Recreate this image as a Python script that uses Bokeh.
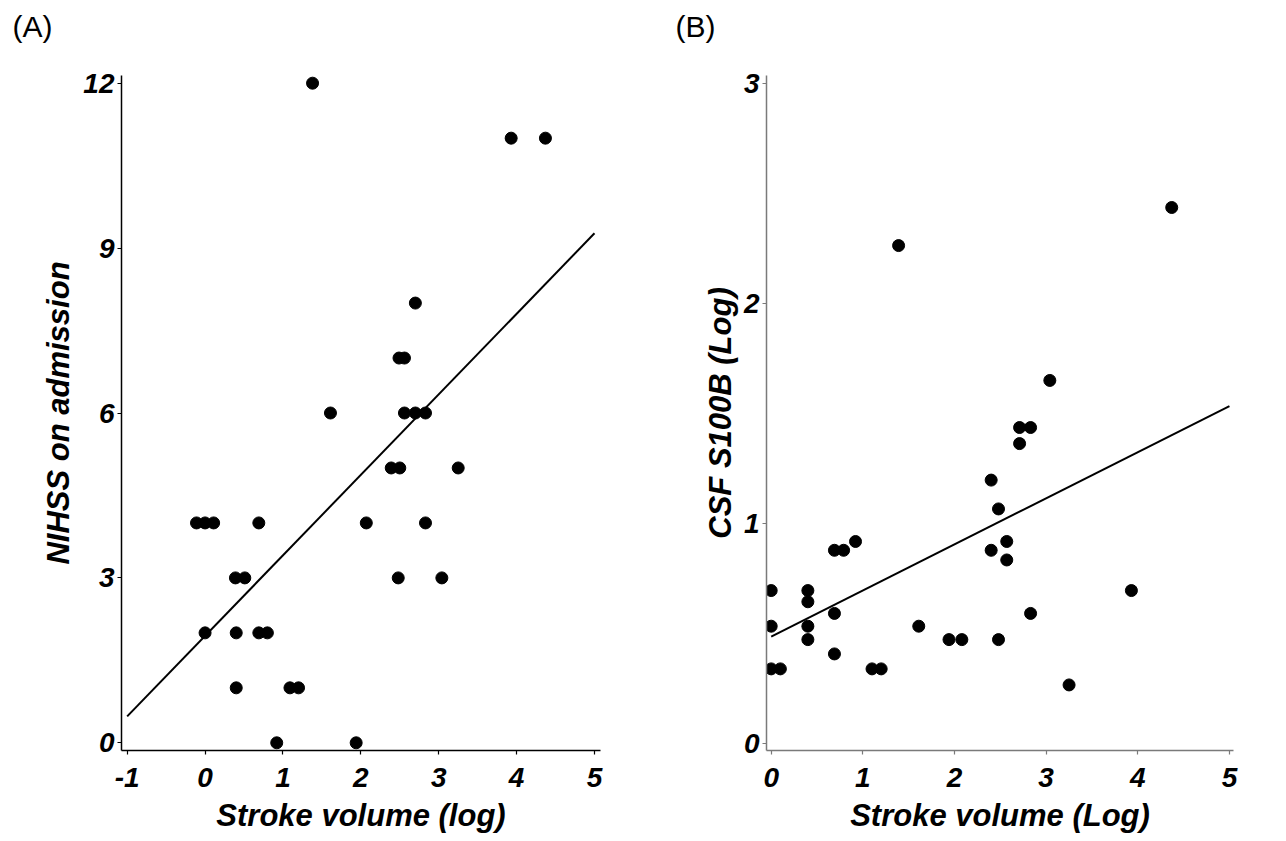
from bokeh.plotting import figure
from bokeh.layouts import row
from bokeh.models import FixedTicker, Range1d, Title
from bokeh.embed import file_html
from bokeh.resources import INLINE

# ---------------- data ----------------
# Panel A: Stroke volume (log) vs NIHSS on admission
a_x = [-0.11, 0.00, 0.11, 0.69, 0.39, 0.51, 0.00, 0.40, 0.69, 0.80, 0.40, 1.09, 1.20,
       0.92, 1.94, 1.61, 2.49, 2.56, 2.56, 2.70, 2.83, 2.39, 2.50, 3.25, 2.07, 2.83,
       2.48, 3.04, 2.70, 1.38, 3.93, 4.37]
a_y = [4, 4, 4, 4, 3, 3, 2, 2, 2, 2, 1, 1, 1,
       0, 0, 6, 7, 7, 6, 6, 6, 5, 5, 5, 4, 4,
       3, 3, 8, 12, 11, 11]
a_fit_x = [-1, 5]
a_fit_intercept = 1.945
a_fit_slope = 1.465
a_xticks = [-1, 0, 1, 2, 3, 4, 5]
a_yticks = [0, 3, 6, 9, 12]

# Panel B: Stroke volume (Log) vs CSF S100B (Log)
b_x = [0.00, 0.00, 0.00, 0.10, 0.40, 0.40, 0.40, 0.40, 0.69, 0.79, 0.92, 0.69, 0.69,
       1.10, 1.20, 1.61, 1.94, 2.08, 2.40, 2.48, 2.40, 2.57, 2.57, 2.48, 2.71, 2.83,
       2.71, 2.83, 3.04, 3.25, 3.93, 1.39, 4.37]
b_y = [0.694, 0.532, 0.338, 0.338, 0.694, 0.643, 0.532, 0.471, 0.877, 0.877, 0.917, 0.590, 0.406,
       0.338, 0.338, 0.532, 0.471, 0.471, 1.196, 1.065, 0.877, 0.917, 0.833, 0.471, 1.435, 1.435,
       1.362, 0.590, 1.649, 0.265, 0.694, 2.262, 2.435]
b_fit_x = [0, 5]
b_fit_intercept = 0.485
b_fit_slope = 0.2094
b_xticks = [0, 1, 2, 3, 4, 5]
b_yticks = [0, 1, 2, 3]

FONT = "Liberation Sans"


def make_panel(xs, ys, fit_x, b0, b1, xticks, yticks, xr, yr, xlabel, ylabel,
               tag, axis_color, fw, fh, bl, bt, bb, br, tag_offset, ylab_standoff):
    p = figure(output_backend="svg", toolbar_location=None,
               frame_width=fw, frame_height=fh,
               min_border_left=bl, min_border_top=bt, min_border_bottom=bb, min_border_right=br,
               x_range=Range1d(*xr), y_range=Range1d(*yr))
    p.outline_line_color = None
    p.grid.visible = False
    p.background_fill_color = "white"
    p.border_fill_color = "white"

    # spacer between frame and panel tag, then the tag itself
    p.add_layout(Title(text=" ", text_font=FONT, text_font_size="28px", standoff=0), "above")
    p.add_layout(Title(text=tag, align="left", offset=tag_offset, text_font=FONT,
                       text_font_style="normal", text_font_size="30px", text_color="black",
                       standoff=0), "above")

    fit_y = [b0 + b1 * v for v in fit_x]
    p.line(fit_x, fit_y, line_color="black", line_width=2)
    p.scatter(xs, ys, size=12, fill_color="black", line_color="black")

    p.xaxis.ticker = FixedTicker(ticks=xticks)
    p.yaxis.ticker = FixedTicker(ticks=yticks)
    p.xaxis.major_label_overrides = {t: str(t) for t in xticks}
    p.yaxis.major_label_overrides = {t: str(t) for t in yticks}
    for ax in (p.xaxis[0], p.yaxis[0]):
        ax.axis_line_color = axis_color
        ax.axis_line_width = 1.5
        ax.major_tick_line_color = axis_color
        ax.major_tick_line_width = 1.2
        ax.major_tick_out = 4
        ax.major_tick_in = 0
        ax.minor_tick_line_color = None
        ax.major_label_text_font = FONT
        ax.major_label_text_font_style = "bold italic"
        ax.major_label_text_font_size = "28px"
        ax.major_label_text_color = "black"
        ax.axis_label_text_font = FONT
        ax.axis_label_text_font_style = "bold italic"
        ax.axis_label_text_font_size = "31px"
        ax.axis_label_text_color = "black"
    p.xaxis.axis_label = xlabel
    p.yaxis.axis_label = ylabel
    p.xaxis.major_label_standoff = 13
    p.xaxis.axis_label_standoff = 8
    p.yaxis.major_label_standoff = 3
    p.yaxis.axis_label_standoff = ylab_standoff
    return p


pA = make_panel(a_x, a_y, a_fit_x, a_fit_intercept, a_fit_slope, a_xticks, a_yticks,
                (-1.073, 5.077), (-0.14, 12.14), "Stroke volume (log)", "NIHSS on admission",
                "(A)", "black", 479, 675, 121, 75, 90, 65, -109, 4)
pB = make_panel(b_x, b_y, b_fit_x, b_fit_intercept, b_fit_slope, b_xticks, b_yticks,
                (-0.0513, 5.044), (-0.033, 3.035), "Stroke volume (Log)", "CSF S100B (Log)",
                "(B)", "#7a7a7a", 467, 675, 101, 75, 90, 50, -91, 3)

layout = row(pA, pB)
open("out.html", "w").write(file_html(layout, INLINE))
